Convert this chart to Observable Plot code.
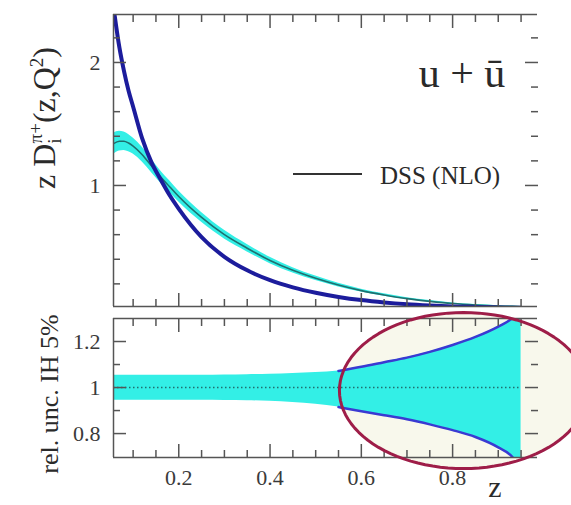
<!DOCTYPE html>
<html><head><meta charset="utf-8">
<script src="https://cdn.jsdelivr.net/npm/d3@7"></script>
<script src="https://cdn.jsdelivr.net/npm/@observablehq/plot@0.6"></script>
<style>
body{margin:0;background:#fff;}
#wrap{position:relative;width:571px;height:505px;overflow:hidden;}
#top,#bot{position:absolute;left:0;}
#top{top:0;z-index:1}
#bot{top:312px;z-index:2}
svg{overflow:visible}
svg text{font-family:"Liberation Serif","Times New Roman",Times,"Nimbus Roman","DejaVu Serif",serif !important;}
</style></head><body>
<div id="wrap"><div id="top"></div><div id="bot"></div></div>
<script>
// ---- data ----
const zGrid    = [0.057,0.07,0.08,0.09,0.1,0.12,0.14,0.16,0.18,0.2,0.25,0.3,0.35,0.4,0.45,0.5,0.55,0.6,0.65,0.7,0.75,0.8,0.85,0.9,0.93,0.95];
const dssNLO   = [2.45,2.12,1.93,1.77,1.64,1.38,1.19,1.05,0.92,0.81,0.58,0.42,0.31,0.23,0.172,0.128,0.094,0.068,0.049,0.035,0.025,0.017,0.012,0.008,0.006,0.005];
const ihCentral= [1.34,1.36,1.36,1.345,1.32,1.25,1.16,1.07,0.99,0.91,0.74,0.60,0.49,0.39,0.31,0.245,0.19,0.145,0.11,0.08,0.058,0.04,0.028,0.02,0.017,0.014];
const ihLow    = [1.255,1.28,1.285,1.275,1.255,1.19,1.105,1.02,0.942,0.865,0.70,0.565,0.46,0.364,0.288,0.227,0.175,0.133,0.10,0.072,0.052,0.035,0.024,0.017,0.014,0.011];
const ihHigh   = [1.425,1.44,1.435,1.415,1.385,1.31,1.215,1.12,1.038,0.955,0.78,0.635,0.52,0.416,0.332,0.263,0.205,0.157,0.12,0.088,0.064,0.045,0.032,0.023,0.02,0.017];
const relHigh  = [1.053,1.053,1.053,1.053,1.053,1.053,1.053,1.053,1.053,1.053,1.053,1.054,1.056,1.058,1.061,1.065,1.072,1.09,1.11,1.13,1.155,1.185,1.22,1.265,1.30,1.34];
const relLow   = [0.945,0.945,0.945,0.945,0.945,0.945,0.945,0.945,0.945,0.945,0.945,0.944,0.943,0.94,0.935,0.927,0.915,0.897,0.88,0.862,0.84,0.815,0.785,0.74,0.70,0.64];
const edgeFrom = 0.55;   // blue edge lines of the relative band start here

const xMajorTicks = [0.2,0.4,0.6,0.8];
const xMinorTicks = [0.1,0.15,0.25,0.3,0.35,0.45,0.5,0.55,0.65,0.7,0.75,0.85,0.9,0.95];
const yTopMajor = [1,2];
const yTopMinor = [0.2,0.4,0.6,0.8,1.2,1.4,1.6,1.8,2.2];
const yBotMajor = [0.8,1,1.2];
const yBotMinor = [0.9,1.1];
const xDomain = [0.057,0.986];
const yTopDomain = [0.016,2.39];
const yBotDomain = [0.696,1.30];
const ellipseNote = {cx:0.824, cy:0.987, rx:0.272, ry:0.339};

// ---- tables ----
const rows = zGrid.map((z,i)=>({z, dss:dssNLO[i], c:ihCentral[i], lo:ihLow[i], hi:ihHigh[i], rlo:relLow[i], rhi:relHigh[i]}));
const edgeRows = rows.filter(d=>d.z>=edgeFrom);
const ellPts = d3.range(0,101).map(k=>{const t=2*Math.PI*k/100; return {x:ellipseNote.cx+ellipseNote.rx*Math.cos(t), y:ellipseNote.cy+ellipseNote.ry*Math.sin(t)};});

const SERIF = '"Liberation Serif","Times New Roman",Times,"Nimbus Roman","DejaVu Serif",serif';
const FRAME="#555", CYAN="#33efe6", NAVY="#1c1c9c", TEAL="#1f6f6f", BLUE2="#3a3ad2";
const fmt = d=>String(d);
const style = {fontFamily:SERIF, fontSize:"22px", color:"#3a3a3a", background:"transparent", overflow:"visible"};

function tickMarks(xMaj,xMin,yMaj,yMin){
  const o = {tickFormat:()=>"",label:null,stroke:FRAME,strokeWidth:1.5};
  return [
    Plot.axisX(xMin,{anchor:"bottom",tickSize:-7,...o}),
    Plot.axisX(xMaj,{anchor:"bottom",tickSize:-13,...o}),
    Plot.axisX(xMin,{anchor:"top",tickSize:-7,...o}),
    Plot.axisX(xMaj,{anchor:"top",tickSize:-13,...o}),
    Plot.axisY(yMin,{anchor:"left",tickSize:-7,...o}),
    Plot.axisY(yMaj,{anchor:"left",tickSize:-13,...o}),
    Plot.axisY(yMin,{anchor:"right",tickSize:-7,...o}),
    Plot.axisY(yMaj,{anchor:"right",tickSize:-13,...o})
  ];
}

const topPlot = Plot.plot({
  width:571, height:312, marginTop:14, marginBottom:6, marginLeft:113, marginRight:34,
  style,
  x:{domain:xDomain}, y:{domain:yTopDomain},
  marks:[
    Plot.areaY(rows,{x:"z",y1:"lo",y2:"hi",fill:CYAN,curve:"monotone-x",clip:true}),
    Plot.line(rows,{x:"z",y:"c",stroke:TEAL,strokeWidth:1.6,curve:"monotone-x",clip:true}),
    Plot.line(rows,{x:"z",y:"dss",stroke:NAVY,strokeWidth:4,curve:"monotone-x",clip:true}),
    ...tickMarks(xMajorTicks,xMinorTicks,yTopMajor,yTopMinor),
    Plot.axisY(yTopMajor,{anchor:"left",tickSize:0,tickPadding:13,tickFormat:fmt,label:null}),
    Plot.ruleX([xDomain[0]],{stroke:FRAME,strokeWidth:1.5}),
    Plot.ruleY(yTopDomain,{stroke:FRAME,strokeWidth:1.5})
  ]
});
document.getElementById("top").append(topPlot);

const botPlot = Plot.plot({
  width:571, height:193, marginTop:6, marginBottom:48, marginLeft:113, marginRight:34,
  style,
  x:{domain:xDomain}, y:{domain:yBotDomain},
  marks:[
    Plot.line(ellPts,{x:"x",y:"y",fill:"#f8f8ec",stroke:"none",curve:"linear"}),
    Plot.areaY(rows,{x:"z",y1:"rlo",y2:"rhi",fill:CYAN,curve:"monotone-x",clip:true}),
    Plot.ruleY([1],{x1:zGrid[0],x2:zGrid[zGrid.length-1],stroke:TEAL,strokeWidth:1.6,strokeDasharray:"1.5,2.5"}),
    Plot.line(edgeRows,{x:"z",y:"rhi",stroke:BLUE2,strokeWidth:2.5,curve:"monotone-x",clip:true}),
    Plot.line(edgeRows,{x:"z",y:"rlo",stroke:BLUE2,strokeWidth:2.5,curve:"monotone-x",clip:true}),
    ...tickMarks(xMajorTicks,xMinorTicks,yBotMajor,yBotMinor),
    Plot.axisY(yBotMajor,{anchor:"left",tickSize:0,tickPadding:13,tickFormat:fmt,label:null}),
    Plot.axisX(xMajorTicks,{anchor:"bottom",tickSize:0,tickPadding:12,tickFormat:fmt,label:null}),
    Plot.ruleX([xDomain[0]],{stroke:FRAME,strokeWidth:1.5}),
    Plot.ruleY(yBotDomain,{stroke:FRAME,strokeWidth:1.5}),
    Plot.line(ellPts,{x:"x",y:"y",stroke:"#9e1d48",strokeWidth:3,curve:"linear"})
  ]
});
document.getElementById("bot").append(botPlot);

// ---- text annotations ----
const ts = d3.select(topPlot);
const ylab = ts.append("text").attr("transform","translate(55,118) rotate(-90)")
  .attr("text-anchor","middle").attr("font-size",32).attr("fill","#2a2a2a");
ylab.append("tspan").text("z D");
ylab.append("tspan").attr("font-size",19).attr("dy",6).text("i");
ylab.append("tspan").attr("font-size",19).attr("dx",-5).attr("dy",-19).text("π+");
ylab.append("tspan").attr("dy",13).text("(z,Q");
ylab.append("tspan").attr("font-size",19).attr("dy",-12).text("2");
ylab.append("tspan").attr("dy",12).text(")");

ts.append("text").attr("x",462).attr("y",87).attr("text-anchor","middle").attr("font-size",42)
  .attr("fill","#2a2a2a").text("u + ū");
ts.append("line").attr("x1",293).attr("x2",362).attr("y1",174).attr("y2",174).attr("stroke","#333").attr("stroke-width",2);
ts.append("text").attr("x",380).attr("y",184).attr("text-anchor","start").attr("font-size",25)
  .attr("fill","#2a2a2a").text("DSS (NLO)");

const bs = d3.select(botPlot);
bs.append("text").attr("transform","translate(58,82) rotate(-90)").attr("text-anchor","middle").attr("font-size",26)
  .attr("fill","#2a2a2a").text("rel. unc. IH 5%");
bs.append("text").attr("x",495).attr("y",185).attr("text-anchor","middle").attr("font-size",30)
  .attr("fill","#2a2a2a").text("z");
</script>
</body></html>
